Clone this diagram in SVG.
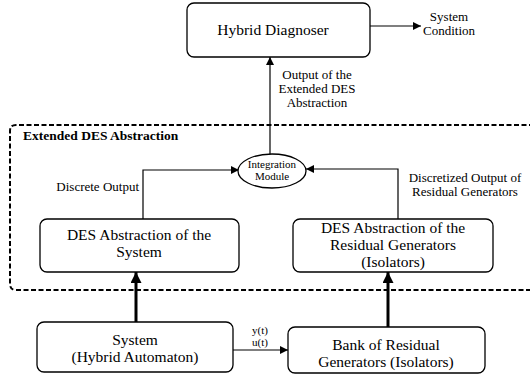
<svg xmlns="http://www.w3.org/2000/svg" width="530" height="377" viewBox="0 0 530 377">
<defs>
<marker id="ah" viewBox="0 0 10 10" refX="10" refY="5" markerWidth="11" markerHeight="8" markerUnits="userSpaceOnUse" orient="auto"><path d="M0,0 L10,5 L0,10 z" fill="#000"/></marker>
<marker id="ahb" viewBox="0 0 10 10" refX="10" refY="5" markerWidth="13" markerHeight="11" markerUnits="userSpaceOnUse" orient="auto"><path d="M0,0 L10,5 L0,10 z" fill="#000"/></marker>
</defs>
<style>
text{font-family:'Liberation Serif','DejaVu Serif',serif;fill:#000;text-anchor:middle}
.box{fill:#fff;stroke:#000;stroke-width:1.3}
.t{font-size:15.5px}
.l{font-size:13px}
.s{font-size:11px}
.st{text-anchor:start}
.en{text-anchor:end}
.c{fill:none;stroke:#000;stroke-width:1.2}
.tk{fill:none;stroke:#000;stroke-width:3}
</style>
<rect width="530" height="377" fill="#fff"/>
<g id="extended-des-abstraction">
<path d="M534,125 H16 Q10,125 10,131 V284 Q10,290 16,290 H534" fill="none" stroke="#000" stroke-width="2" stroke-dasharray="5,2.5"/>
<text class="st" x="23" y="140" font-size="13.5" font-weight="bold">Extended DES Abstraction</text>
</g>
<g id="connectors">
<line class="c" x1="370" y1="26" x2="421" y2="26" marker-end="url(#ah)"/>
<line class="c" x1="270" y1="154" x2="270" y2="57" marker-end="url(#ah)"/>
<polyline class="c" points="143,219 143,170 239,170" marker-end="url(#ah)"/>
<polyline class="c" points="398,219 398,169 306,169" marker-end="url(#ah)"/>
<line class="tk" x1="136" y1="322" x2="136" y2="272" marker-end="url(#ahb)"/>
<line class="tk" x1="388" y1="327" x2="388" y2="272" marker-end="url(#ahb)"/>
<line class="c" x1="233" y1="350" x2="288" y2="350" marker-end="url(#ah)"/>
<text class="l" x="449" y="21">System</text>
<text class="l" x="449" y="35">Condition</text>
<text class="l" x="317" y="79">Output of the</text>
<text class="l" x="317" y="93">Extended DES</text>
<text class="l" x="317" y="107">Abstraction</text>
<text class="l en" x="139" y="191">Discrete Output</text>
<text class="l" x="465" y="182">Discretized Output of</text>
<text class="l" x="465" y="196">Residual Generators</text>
<text class="s" x="260" y="334" font-size="12">y(t)</text>
<text class="s" x="260" y="346" font-size="12">u(t)</text>
</g>
<g id="hybrid-diagnoser">
<rect class="box" x="187" y="3" width="183" height="54" rx="7"/>
<text class="t" x="273" y="35" font-size="16.5">Hybrid Diagnoser</text>
</g>
<g id="integration-module">
<ellipse class="box" cx="272" cy="171" rx="34" ry="17"/>
<text class="s" x="272" y="168">Integration</text>
<text class="s" x="272" y="180">Module</text>
</g>
<g id="des-system">
<rect class="box" x="40" y="219" width="199" height="53" rx="7"/>
<text class="t" x="139" y="240">DES Abstraction of the</text>
<text class="t" x="139" y="257">System</text>
</g>
<g id="des-residual">
<rect class="box" x="293" y="219" width="200" height="53" rx="7"/>
<text class="t" x="393" y="233">DES Abstraction of the</text>
<text class="t" x="393" y="250">Residual Generators</text>
<text class="t" x="393" y="267">(Isolators)</text>
</g>
<g id="system">
<rect class="box" x="37" y="322" width="196" height="50" rx="7"/>
<text class="t" x="135" y="345">System</text>
<text class="t" x="135" y="362">(Hybrid Automaton)</text>
</g>
<g id="bank">
<rect class="box" x="288" y="327" width="197" height="46" rx="7"/>
<text class="t" x="386" y="350">Bank of Residual</text>
<text class="t" x="386" y="367">Generators (Isolators)</text>
</g>
</svg>
